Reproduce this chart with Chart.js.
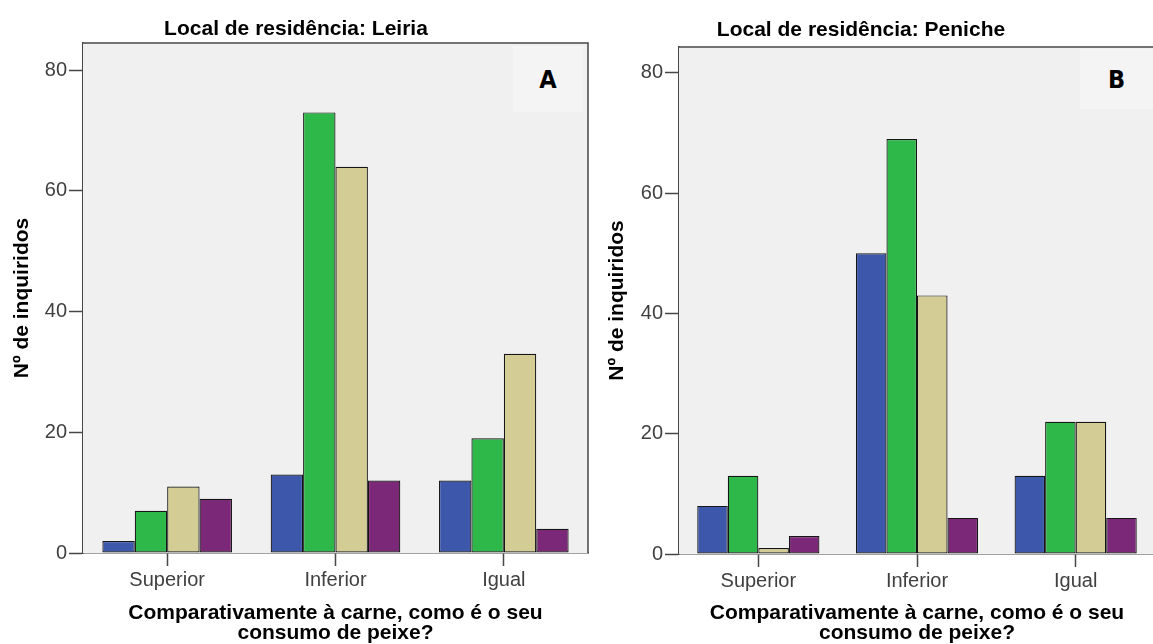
<!DOCTYPE html>
<html>
<head>
<meta charset="utf-8">
<script src="https://cdn.jsdelivr.net/npm/chart.js@4/dist/chart.umd.min.js"></script>
<style>
  html, body { margin: 0; padding: 0; background: #ffffff; overflow: hidden; width: 1153px; height: 644px; }
  .panel { position: absolute; top: 0; height: 644px; }
  #p1 { left: 0; width: 595px; }
  #p2 { left: 595px; width: 560px; }
  .tag { position: absolute; background: #f4f4f4; font-family: "Liberation Sans Narrow", "DejaVu Sans Condensed", "Liberation Sans", sans-serif; font-weight: bold; font-size: 25px; color: #000; display: flex; align-items: center; justify-content: center; }
</style>
</head>
<body>
<div class="panel" id="p1"><canvas id="c1" width="595" height="644"></canvas></div>
<div class="panel" id="p2"><canvas id="c2" width="560" height="644"></canvas></div>
<div class="tag" style="left:513px; top:46px; width:70px; height:66px;">A</div>
<div class="tag" style="left:1080px; top:49px; width:73px; height:60px;">B</div>
<script>
// ---- data ----
const categories = ['Superior', 'Inferior', 'Igual'];
const yTickValues = [0, 20, 40, 60, 80];

const leiriaBlue   = [2, 13, 12];
const leiriaGreen  = [7, 73, 19];
const leiriaTan    = [11, 64, 33];
const leiriaPurple = [9, 12, 4];

const penicheBlue   = [8, 50, 13];
const penicheGreen  = [13, 69, 22];
const penicheTan    = [1, 43, 22];
const penichePurple = [3, 6, 6];

const titleLeiria = 'Local de residência: Leiria';
const titlePeniche = 'Local de residência: Peniche';
const yTitle = 'Nº de inquiridos';
const xTitle = ['Comparativamente à carne, como é o seu', 'consumo de peixe?'];

// ---- styles ----
const COLORS = ['#3d58ab', '#2fb84a', '#d3cd95', '#7c2878'];
const FONT = '"Liberation Sans", Arial, sans-serif';
const AXIS = '#474747';

const panelTitlePlugin = {
  id: 'panelTitle',
  afterDraw(chart, args, opts) {
    const ctx = chart.ctx;
    ctx.save();
    ctx.font = 'bold 21px ' + FONT;
    ctx.fillStyle = '#000';
    ctx.textAlign = 'center';
    ctx.textBaseline = 'middle';
    ctx.fillText(opts.text, opts.x, opts.y);
    ctx.restore();
  }
};

const framePlugin = {
  id: 'frame',
  beforeDatasetsDraw(chart) {
    const { ctx, chartArea: a } = chart;
    ctx.save();
    ctx.fillStyle = '#f0f0f0';
    ctx.fillRect(a.left, a.top, a.right - a.left, a.bottom - a.top);
    ctx.restore();
  },
  afterDraw(chart) {
    const { ctx, chartArea: a } = chart;
    ctx.save();
    ctx.strokeStyle = AXIS;
    ctx.lineWidth = 1.5;
    ctx.beginPath();
    ctx.moveTo(a.left, a.top);
    ctx.lineTo(a.right, a.top);
    ctx.lineTo(a.right, a.bottom);
    ctx.stroke();
    ctx.restore();
  }
};

function makeChart(canvasId, series, opts) {
  const names = ['A1', 'A2', 'A3', 'A4'];
  return new Chart(document.getElementById(canvasId), {
    type: 'bar',
    data: {
      labels: categories,
      datasets: series.map((d, i) => ({
        label: names[i],
        data: d,
        backgroundColor: COLORS[i],
        borderColor: '#151515',
        borderWidth: 1.2,
        borderSkipped: false,
        categoryPercentage: 0.77,
        barPercentage: 1.0
      }))
    },
    options: {
      responsive: false,
      animation: false,
      layout: { padding: { top: opts.padTop, right: opts.padRight, left: 0, bottom: 0 } },
      plugins: {
        legend: { display: false },
        title: { display: false },
        tooltip: { enabled: false },
        panelTitle: { text: opts.title, x: opts.titleX, y: opts.titleY }
      },
      scales: {
        x: {
          type: 'category',
          offset: true,
          grid: { display: true, drawOnChartArea: false, offset: false, tickLength: 13, tickColor: AXIS, tickWidth: 1.5 },
          border: { display: true, color: AXIS, width: 1.5 },
          ticks: { color: '#404040', font: { family: FONT, size: 20 }, padding: 2, maxRotation: 0 },
          title: { display: true, text: xTitle, color: '#000', font: { family: FONT, size: 21, weight: 'bold', lineHeight: 0.95 }, padding: { top: 0, bottom: 1 } },
          afterFit(scale) { scale.height = opts.xHeight; }
        },
        y: {
          min: 0,
          max: opts.yMax,
          grid: { display: true, drawOnChartArea: false, tickLength: 14, tickColor: AXIS, tickWidth: 1.5 },
          border: { display: true, color: AXIS, width: 1.5 },
          ticks: { color: '#404040', font: { family: FONT, size: 20 }, padding: 2, stepSize: 20 },
          afterBuildTicks(scale) { scale.ticks = yTickValues.map(v => ({ value: v })); },
          title: { display: true, text: yTitle, color: '#000', font: { family: FONT, size: 21, weight: 'bold', lineHeight: 1.2 }, padding: { top: 10, bottom: 0 } },
          afterFit(scale) { scale.width = opts.yWidth; }
        }
      }
    },
    plugins: [framePlugin, panelTitlePlugin]
  });
}

makeChart('c1', [leiriaBlue, leiriaGreen, leiriaTan, leiriaPurple], {
  title: titleLeiria, titleX: 296, titleY: 29,
  padTop: 43, padRight: 7, xHeight: 91, yWidth: 83, yMax: 84.5
});
makeChart('c2', [penicheBlue, penicheGreen, penicheTan, penichePurple], {
  title: titlePeniche, titleX: 266, titleY: 30,
  padTop: 47, padRight: 0, xHeight: 90, yWidth: 84, yMax: 84.3
});
</script>
</body>
</html>
